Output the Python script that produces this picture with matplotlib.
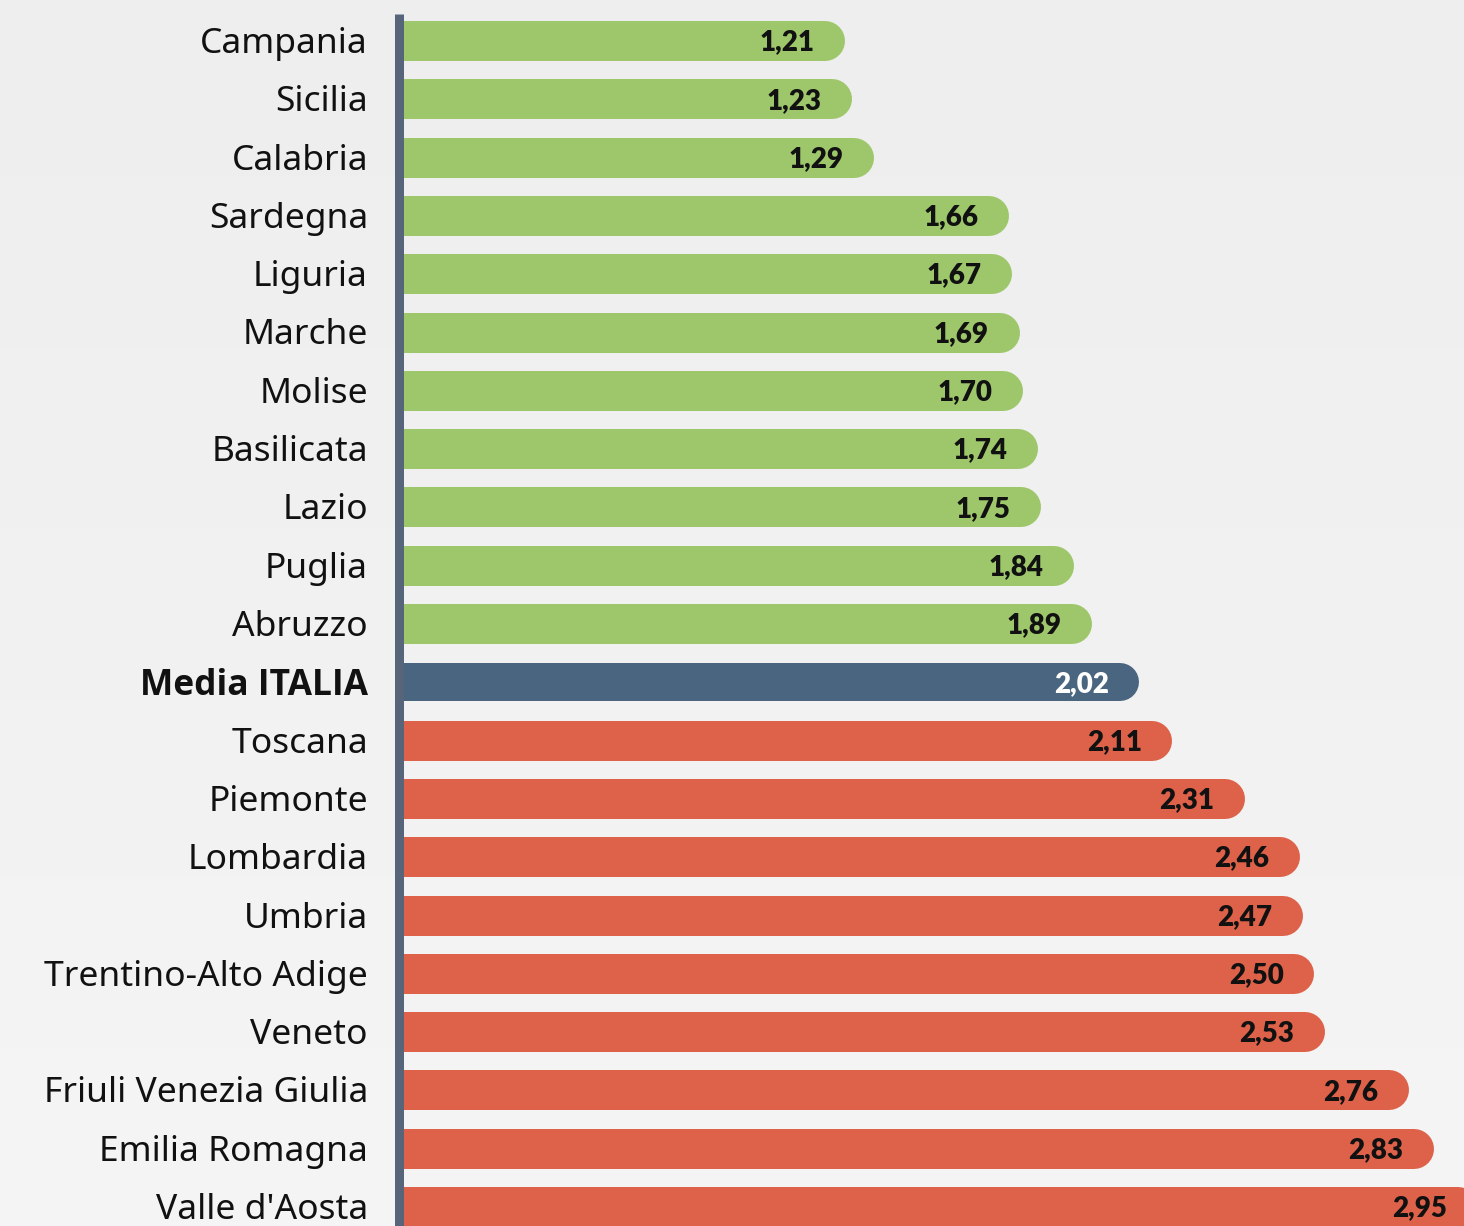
import numpy as np
import matplotlib
matplotlib.use("Agg")
import matplotlib.pyplot as plt
import matplotlib.transforms as mtransforms

regions = ["Campania", "Sicilia", "Calabria", "Sardegna", "Liguria", "Marche",
           "Molise", "Basilicata", "Lazio", "Puglia", "Abruzzo", "Media ITALIA",
           "Toscana", "Piemonte", "Lombardia", "Umbria", "Trentino-Alto Adige",
           "Veneto", "Friuli Venezia Giulia", "Emilia Romagna", "Valle d'Aosta"]
values = [1.21, 1.23, 1.29, 1.66, 1.67, 1.69, 1.70, 1.74, 1.75, 1.84, 1.89, 2.02,
          2.11, 2.31, 2.46, 2.47, 2.50, 2.53, 2.76, 2.83, 2.95]
media = 2.02

GREEN = "#9dc76a"
BLUE = "#4a6580"
RED = "#dd6249"
AXIS = "#56657a"

plt.rcParams["font.family"] = ["Noto Sans", "DejaVu Sans"]

W, H, DPI = 14.64, 12.26, 100
fig = plt.figure(figsize=(W, H), dpi=DPI)

# background gradient
bg = fig.add_axes([0, 0, 1, 1], zorder=-10)
grad = np.linspace(0, 1, 256).reshape(-1, 1)
bg.imshow(grad, aspect="auto", cmap=matplotlib.colors.LinearSegmentedColormap.from_list(
    "bg", ["#eeeeee", "#f5f5f5"]), extent=[0, 1, 0, 1], origin="upper")
bg.axis("off")

# axes geometry in pixels
left_px, top_px, right_px = 403, 14, 1464
ax = fig.add_axes([left_px / 1464, 0, (right_px - left_px) / 1464, (1226 - top_px) / 1226])
ax.patch.set_alpha(0)

for s in ["top", "right", "bottom"]:
    ax.spines[s].set_visible(False)
ax.spines["left"].set_color(AXIS)
ax.spines["left"].set_linewidth(9 * 72 / DPI)
ax.spines["left"].set_position(("outward", 4.5 * 72 / DPI))
ax.spines["left"].set_capstyle("butt")

px_per_unit = 365.0
zero_px = 401
ax.set_xlim(-(left_px - zero_px) / px_per_unit, (right_px - zero_px) / px_per_unit)
row = 58.3
first = 41
ax.set_ylim((1226 - first) / row, -(first - top_px) / row)

bar_h_px = 40
lw = bar_h_px * 72 / DPI
r_data = (bar_h_px / 2) / px_per_unit

for i, (name, v) in enumerate(zip(regions, values)):
    if name == "Media ITALIA":
        c, tc = BLUE, "white"
        h = 38 * 72 / DPI
    elif v < media:
        c, tc = GREEN, "#111111"
        h = lw
    else:
        c, tc = RED, "#111111"
        h = lw
    ax.plot([-0.1, v - r_data], [i, i], color=c, linewidth=h,
            solid_capstyle="round", zorder=2)
    ax.annotate(f"{v:.2f}".replace(".", ","), xy=(v, i), xytext=(-22, -1),
                textcoords="offset points", ha="right", va="center",
                fontsize=20, fontweight="heavy", family=["Lato", "DejaVu Sans"],
                color=tc, zorder=3, annotation_clip=False)

# region labels, drawn as text so the bold one keeps its weight
ax.set_yticks([])
ax.set_xticks([])
lab_tr = ax.get_yaxis_transform() + mtransforms.ScaledTranslation(-35 / DPI, 1 / DPI, fig.dpi_scale_trans)
for i, name in enumerate(regions):
    bold = name == "Media ITALIA"
    ax.text(0, i, name, transform=lab_tr, ha="right", va="center_baseline",
            fontsize=25.5, color="#111111",
            fontweight="bold" if bold else "normal",
            family=["Open Sans", "Noto Sans", "DejaVu Sans"] if bold else ["Noto Sans", "DejaVu Sans"],
            clip_on=False)

fig.savefig("out.png", dpi=DPI)
